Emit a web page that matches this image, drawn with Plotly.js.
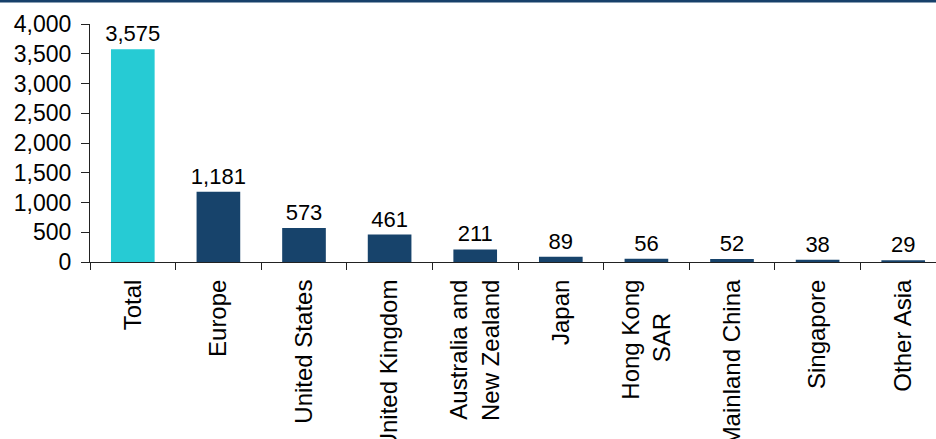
<!DOCTYPE html>
<html>
<head>
<meta charset="utf-8">
<script src="https://cdn.plot.ly/plotly-3.0.1.min.js"></script>
<style>
  html, body { margin: 0; padding: 0; background: #fff; }
  #chart { width: 936px; height: 439px; }
</style>
</head>
<body>
<div id="chart"></div>
<script>
const NB = "\u00A0";
const categories = ["Total", "Europe", "United States", "United Kingdom", "Australia and<br>New Zealand", "Japan", "Hong Kong<br>SAR" + NB.repeat(5), "Mainland China", "Singapore", "Other Asia"];
const values = [3575, 1181, 573, 461, 211, 89, 56, 52, 38, 29];
const barColors = ["#26CBD4", "#17436B", "#17436B", "#17436B", "#17436B", "#17436B", "#17436B", "#17436B", "#17436B", "#17436B"];
const yTickVals = [0, 500, 1000, 1500, 2000, 2500, 3000, 3500, 4000];

const font = "Liberation Sans, Arial, sans-serif";

const trace = {
  type: "bar",
  x: categories,
  y: values,
  marker: { color: barColors, line: { width: 0 } },
  width: 0.51,
  text: values.map(v => v.toLocaleString("en-US")),
  textposition: "outside",
  constraintext: "none",
  cliponaxis: false,
  textfont: { family: font, size: 22, color: "#000" },
  hoverinfo: "none"
};

const plotH = 238;
const layout = {
  width: 936,
  height: 439,
  margin: { l: 90, r: 0, t: 24, b: 177, pad: 0 },
  paper_bgcolor: "#fff",
  plot_bgcolor: "#fff",
  showlegend: false,
  font: { family: font, color: "#000" },
  xaxis: {
    type: "category",
    range: [-0.5, 9.383],
    showline: true,
    linecolor: "#222",
    linewidth: 1,
    ticks: "outside",
    tickson: "boundaries",
    ticklen: 7,
    tickcolor: "#222",
    tickangle: -90,
    tickfont: { family: font, size: 24, color: "#000" },
    ticklabelstandoff: 7,
    showgrid: false,
    zeroline: false,
    fixedrange: true
  },
  yaxis: {
    range: [0, 4000],
    tickvals: yTickVals,
    ticktext: yTickVals.map(v => v.toLocaleString("en-US")),
    showline: true,
    linecolor: "#222",
    linewidth: 1,
    ticks: "outside",
    ticklen: 8,
    tickcolor: "#222",
    tickfont: { family: font, size: 23, color: "#000" },
    ticklabelstandoff: 5,
    showgrid: false,
    zeroline: false,
    fixedrange: true
  },
  shapes: [{
    type: "rect",
    xref: "paper", yref: "paper",
    x0: -90 / 846, x1: 1,
    y0: 1 + 21.5 / plotH, y1: 1 + 24.5 / plotH,
    fillcolor: "#17406A",
    line: { width: 0 },
    layer: "above"
  }],
  bargap: 0.49
};

Plotly.newPlot("chart", [trace], layout, { staticPlot: true, displayModeBar: false });
</script>
</body>
</html>
